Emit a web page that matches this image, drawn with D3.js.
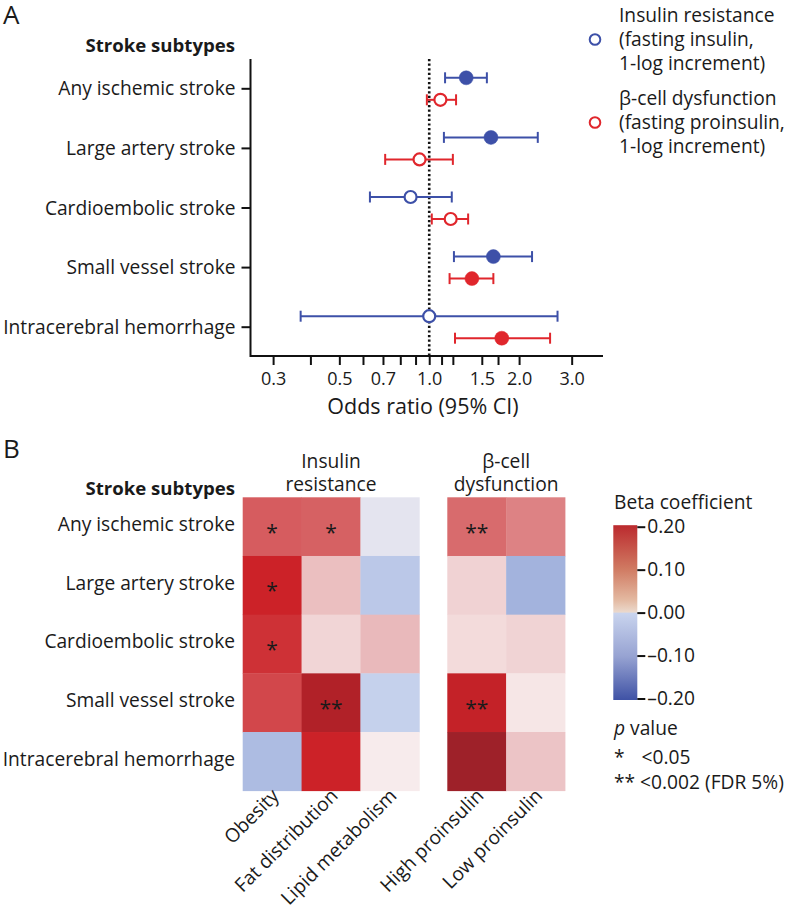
<!DOCTYPE html>
<html>
<head>
<meta charset="utf-8">
<script src="https://cdn.jsdelivr.net/npm/d3@7"></script>
<style>
  html, body { margin: 0; padding: 0; background: #fff; }
  svg { display: block; font-family: "Open Sans", sans-serif; }
</style>
</head>
<body>
<svg id="chart" width="789" height="912"></svg>
<script>
// ---------- Panel A data ----------
const categories = ["Any ischemic stroke", "Large artery stroke", "Cardioembolic stroke", "Small vessel stroke", "Intracerebral hemorrhage"];
const irOR  = [1.33, 1.61, 0.866, 1.64, 1.00];
const irLo  = [1.13, 1.12, 0.633, 1.21, 0.371];
const irHi  = [1.56, 2.31, 1.19, 2.21, 2.69];
const irSig = [true, true, false, true, false];
const bcOR  = [1.09, 0.928, 1.18, 1.39, 1.75];
const bcLo  = [0.982, 0.712, 1.02, 1.17, 1.22];
const bcHi  = [1.23, 1.20, 1.35, 1.64, 2.54];
const bcSig = [false, false, false, true, true];
const xTickValues = [0.3, 0.4, 0.5, 0.6, 0.7, 0.8, 0.9, 1.0, 1.1, 1.2, 1.5, 1.7, 2.0, 3.0];
const xTickLabels = ["0.3", "", "0.5", "", "0.7", "", "", "1.0", "", "", "1.5", "", "2.0", "3.0"];
const legendIR = ["Insulin resistance", "(fasting insulin,", "1-log increment)"];
const legendBC = ["\u03B2-cell dysfunction", "(fasting proinsulin,", "1-log increment)"];

// ---------- Panel B data ----------
const hmGroup1 = ["Obesity", "Fat distribution", "Lipid metabolism"];
const hmGroup2 = ["High proinsulin", "Low proinsulin"];
const groupHeaders = [["Insulin", "resistance"], ["\u03B2-cell", "dysfunction"]];
const betaObesity = [0.11, 0.15, 0.14, 0.125, -0.085];
const betaFat     = [0.107, 0.045, 0.025, 0.20, 0.15];
const betaLipid   = [-0.02, -0.065, 0.05, -0.05, 0.005];
const betaHigh    = [0.10, 0.028, 0.02, 0.165, 0.25];
const betaLow     = [0.085, -0.10, 0.027, 0.01, 0.04];
const sigObesity = ["*", "*", "*", "", ""];
const sigFat     = ["*", "", "", "**", ""];
const sigLipid   = ["", "", "", "", ""];
const sigHigh    = ["**", "", "", "**", ""];
const sigLow     = ["", "", "", "", ""];
const cellColorDomain = [-0.1, -0.05, 0, 0.05, 0.1, 0.15, 0.2, 0.25];
const cellColorRange  = ["#a3b3dd", "#c5d1ec", "#f9f1f1", "#e9b9bb", "#d86b6d", "#cc2228", "#b12128", "#9e2129"];
const barStopValues = [0.2, 0.1, 0.03, 0.001, -0.001, -0.1, -0.2];
const barStopColors = ["#bb2a2e", "#d07a62", "#e3b8a0", "#ebd9cc", "#c9d4ee", "#97a3d2", "#3f52a5"];
const barTicks = [0.2, 0.1, 0, -0.1, -0.2];
const barTickLabels = ["0.20", "0.10", "0.00", "\u20130.10", "\u20130.20"];
const pLegend = [["*", "<0.05"], ["** <0.002 (FDR 5%)", ""]];

const BLUE = "#3d50a8", RED = "#e0262c", INK = "#1a1a1a";
const svg = d3.select("#chart");
const FS = 19.2, FSB = 18.6;

function multiline(sel, lines, x0, y0, step) {
  lines.forEach((t, i) => sel.append("tspan").attr("x", x0).attr("y", y0 + i * step).text(t));
}

// ================= Panel A =================
svg.append("text").attr("x", 3).attr("y", 24).attr("font-size", 26).attr("fill", INK).text("A");

const x = d3.scaleLog().domain([0.252, 3.82]).range([250.5, 603]);
const y = d3.scaleBand().domain(categories).range([59, 357]);

const gA = svg.append("g");
const xAxis = d3.axisBottom(x).tickValues(xTickValues)
  .tickFormat((d, i) => xTickLabels[i]).tickSize(9).tickSizeOuter(0).tickPadding(7);
const gx = gA.append("g").attr("transform", "translate(0,356)").call(xAxis);
const yAxis = d3.axisLeft(y).tickSize(9).tickSizeOuter(0).tickPadding(6);
const gy = gA.append("g").attr("transform", "translate(250.5,0)").call(yAxis);
[gx, gy].forEach(g => {
  g.selectAll("path.domain").attr("stroke", "#111").attr("stroke-width", 2);
  g.selectAll(".tick line").attr("stroke", "#111").attr("stroke-width", 2);
  g.selectAll(".tick text").attr("font-family", "Open Sans").attr("fill", INK);
});
gx.selectAll(".tick text").attr("font-size", 18);
gy.selectAll(".tick text").attr("font-size", FS).attr("dy", "0.34em");
gy.select("path.domain").attr("d", "M0,59V357");
gx.select("path.domain").attr("d", "M250.5,0H603");

gA.append("text").attr("x", 235).attr("y", 52).attr("text-anchor", "end")
  .attr("font-size", FSB).attr("font-weight", "bold").attr("fill", INK).text("Stroke subtypes");
gA.append("text").attr("x", 423).attr("y", 414).attr("text-anchor", "middle")
  .attr("font-size", 21.5).attr("fill", INK).text("Odds ratio (95% CI)");

// reference line at OR = 1
gA.append("line").attr("x1", x(1)).attr("x2", x(1)).attr("y1", 59).attr("y2", 356)
  .attr("stroke", "#111").attr("stroke-width", 2.6).attr("stroke-dasharray", "2.2,2.4");

function drawSeries(or, lo, hi, sig, color, off) {
  const g = gA.append("g");
  categories.forEach((c, i) => {
    const cy = y(c) + y.bandwidth() / 2 + off;
    g.append("line").attr("x1", x(lo[i])).attr("x2", x(hi[i])).attr("y1", cy).attr("y2", cy)
      .attr("stroke", color).attr("stroke-width", 2);
    [lo[i], hi[i]].forEach(v => g.append("line").attr("x1", x(v)).attr("x2", x(v))
      .attr("y1", cy - 5.5).attr("y2", cy + 5.5).attr("stroke", color).attr("stroke-width", 2));
  });
  categories.forEach((c, i) => {
    const cy = y(c) + y.bandwidth() / 2 + off;
    g.append("circle").attr("cx", x(or[i])).attr("cy", cy)
      .attr("r", sig[i] ? 7 : 6)
      .attr("fill", sig[i] ? color : "#fff")
      .attr("stroke", color).attr("stroke-width", sig[i] ? 0.5 : 2.2);
  });
}
drawSeries(irOR, irLo, irHi, irSig, BLUE, -11);
drawSeries(bcOR, bcLo, bcHi, bcSig, RED, 11);

// legend
function drawLegend(lines, color, y0) {
  const t = svg.append("text").attr("font-size", FS).attr("fill", INK);
  multiline(t, lines, 619, y0, 24);
  svg.append("circle").attr("cx", 595).attr("cy", y0 + 24 - 6.5).attr("r", 5.3)
    .attr("fill", "#fff").attr("stroke", color).attr("stroke-width", 2);
}
drawLegend(legendIR, BLUE, 22);
drawLegend(legendBC, RED, 105);

// ================= Panel B =================
svg.append("text").attr("x", 3).attr("y", 458).attr("font-size", 26).attr("fill", INK).text("B");

const rowY = d3.scaleBand().domain(categories).range([497.3, 790.7]);
const col1 = d3.scaleBand().domain(hmGroup1).range([242.7, 419.3]);
const col2 = d3.scaleBand().domain(hmGroup2).range([447.3, 565]);
const cellColor = d3.scaleLinear().domain(cellColorDomain).range(cellColorRange).clamp(true);

const gB = svg.append("g");
gB.append("text").attr("x", 235).attr("y", 495).attr("text-anchor", "end")
  .attr("font-size", FSB).attr("font-weight", "bold").attr("fill", INK).text("Stroke subtypes");
categories.forEach(c => gB.append("text").attr("x", 235)
  .attr("y", rowY(c) + rowY.bandwidth() / 2).attr("dy", "0.22em").attr("text-anchor", "end")
  .attr("font-size", FS).attr("fill", INK).text(c));

const columns = [
  { name: "Obesity", vals: betaObesity, sig: sigObesity, sc: col1 },
  { name: "Fat distribution", vals: betaFat, sig: sigFat, sc: col1 },
  { name: "Lipid metabolism", vals: betaLipid, sig: sigLipid, sc: col1 },
  { name: "High proinsulin", vals: betaHigh, sig: sigHigh, sc: col2 },
  { name: "Low proinsulin", vals: betaLow, sig: sigLow, sc: col2 }
];
columns.forEach(col => {
  const cx0 = col.sc(col.name), bw = col.sc.bandwidth();
  categories.forEach((c, i) => {
    gB.append("rect").attr("x", cx0).attr("y", rowY(c))
      .attr("width", bw + 0.4).attr("height", rowY.bandwidth() + 0.4)
      .attr("fill", cellColor(col.vals[i]));
    if (col.sig[i]) {
      gB.append("text").attr("x", cx0 + bw / 2).attr("y", rowY(c) + rowY.bandwidth() / 2 + 13)
        .attr("text-anchor", "middle").attr("font-size", 21).attr("fill", INK).text(col.sig[i]);
    }
  });
  gB.append("text")
    .attr("transform", `translate(${cx0 + bw / 2 + 8},${797}) rotate(-45)`)
    .attr("text-anchor", "end").attr("font-size", FS).attr("fill", INK).text(col.name);
});

// group headers
const groupCenters = [(242.7 + 419.3) / 2, (447.3 + 565) / 2];
groupHeaders.forEach((lines, gi) => {
  const t = gB.append("text").attr("text-anchor", "middle").attr("font-size", FS).attr("fill", INK);
  multiline(t, lines, groupCenters[gi], 468, 23);
});

// colorbar
const cb = d3.scaleLinear().domain([-0.2, 0.2]).range([698.5, 526.7]);
const defs = svg.append("defs");
const grad = defs.append("linearGradient").attr("id", "cbgrad")
  .attr("x1", 0).attr("y1", 0).attr("x2", 0).attr("y2", 1);
barStopValues.forEach((v, i) => grad.append("stop")
  .attr("offset", (cb(v) - cb(0.2)) / (cb(-0.2) - cb(0.2)))
  .attr("stop-color", barStopColors[i]));
gB.append("rect").attr("x", 613.3).attr("y", cb(0.2) - 1.5).attr("width", 24)
  .attr("height", cb(-0.2) - cb(0.2) + 3).attr("fill", "url(#cbgrad)");
const cbAxis = d3.axisRight(cb).tickValues(barTicks).tickFormat((d, i) => barTickLabels[i])
  .tickSize(8).tickSizeOuter(0).tickPadding(2);
const gcb = gB.append("g").attr("transform", "translate(637.3,0)").call(cbAxis);
gcb.select("path.domain").remove();
gcb.selectAll(".tick line").attr("stroke", "#111").attr("stroke-width", 2);
gcb.selectAll(".tick text").attr("font-size", FS).attr("font-family", "Open Sans").attr("fill", INK);
gB.append("text").attr("x", 614).attr("y", 509).attr("font-size", FS).attr("fill", INK).text("Beta coefficient");

// p value legend
const pv = gB.append("text").attr("x", 614).attr("y", 735).attr("font-size", FS).attr("fill", INK);
pv.append("tspan").attr("font-style", "italic").text("p");
pv.append("tspan").text(" value");
const p1 = gB.append("text").attr("y", 764).attr("font-size", FS).attr("fill", INK);
p1.append("tspan").attr("x", 614).text(pLegend[0][0]);
p1.append("tspan").attr("x", 641.5).text(pLegend[0][1]);
gB.append("text").attr("x", 614).attr("y", 789).attr("font-size", FS).attr("fill", INK).text(pLegend[1][0]);
</script>
</body>
</html>
